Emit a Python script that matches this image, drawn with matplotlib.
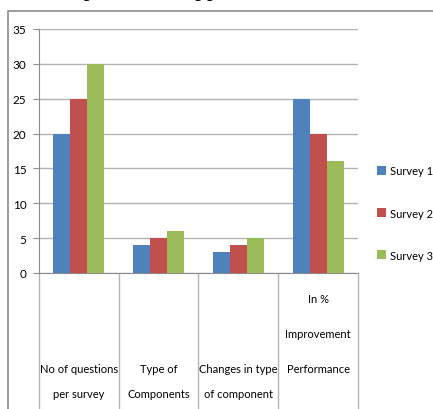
import matplotlib
matplotlib.use("Agg")
import matplotlib.pyplot as plt
from matplotlib.patches import Rectangle
import numpy as np

plt.rcParams['font.family'] = ['Lato', 'DejaVu Sans']

categories = ["No of questions\nper survey", "Type of\nComponents",
              "Changes in type\nof component", "In %\nImprovement\nPerformance"]
series_names = ["Survey 1", "Survey 2", "Survey 3"]
survey1 = [20, 4, 3, 25]
survey2 = [25, 5, 4, 20]
survey3 = [30, 6, 5, 16]
yticks = [0, 5, 10, 15, 20, 25, 30, 35]
colors = ["#4F81BD", "#C0504D", "#9BBB59"]

W, H = 433, 410
fig = plt.figure(figsize=(W/100, H/100), dpi=100)

def fx(px): return px / W
def fy(py): return 1 - py / H

FS = 8

# partially clipped title at the top
fig.text(fx(-8), fy(-4), "as of comparison of application of tools", fontsize=17,
         family='Liberation Serif', va='baseline', ha='left', color='black')

# chart border
fig.patches.append(Rectangle((fx(8), fy(460)), fx(500), 448/H, transform=fig.transFigure,
                             fill=False, edgecolor='#8c8c8c', linewidth=1.2))

ax = fig.add_axes([fx(39), fy(274), fx(358) - fx(39), fy(30) - fy(274)])
x = np.arange(len(categories))
bw = 0.2125
for i, (vals, name) in enumerate(zip([survey1, survey2, survey3], series_names)):
    ax.bar(x + (i - 1) * bw, vals, width=bw, color=colors[i], label=name, zorder=3)

ax.set_xlim(-0.5, len(categories) - 0.5)
ax.set_ylim(0, 35)
ax.set_yticks(yticks)
ax.set_yticklabels([str(t) for t in yticks], fontsize=8.5)
ax.yaxis.grid(True, color='#b3b3b3', linewidth=1, zorder=0)
ax.tick_params(axis='y', length=4, color='#8c8c8c', pad=5)
ax.set_xticks(np.arange(-0.5, len(categories)))
ax.set_xticklabels([])
ax.tick_params(axis='x', length=100, color='#b3b3b3', width=1, direction='out')
for s in ['top', 'right']:
    ax.spines[s].set_visible(False)
ax.spines['left'].set_color('#8c8c8c')
ax.spines['bottom'].set_color('#8c8c8c')

# category labels, line by line
label_rows = [[(370, "No of questions"), (395, "per survey")],
              [(370, "Type of"), (395, "Components")],
              [(370, "Changes in type"), (395, "of component")],
              [(300, "In %"), (335, "Improvement"), (370, "Performance")]]
fig.canvas.draw()
for xi, rows in zip(x, label_rows):
    xf = fig.transFigure.inverted().transform(ax.transData.transform((xi, 0)))[0]
    for py, txt in rows:
        fig.text(xf, fy(py), txt, ha='center', va='center', fontsize=FS)

leg = ax.legend(loc='center left', bbox_to_anchor=(fx(377), fy(214)),
                bbox_transform=fig.transFigure, frameon=False, fontsize=FS,
                handlelength=0.85, handleheight=0.85, handletextpad=0.3,
                labelspacing=2.8, borderpad=0, borderaxespad=0)

fig.savefig("out.png", dpi=100)
